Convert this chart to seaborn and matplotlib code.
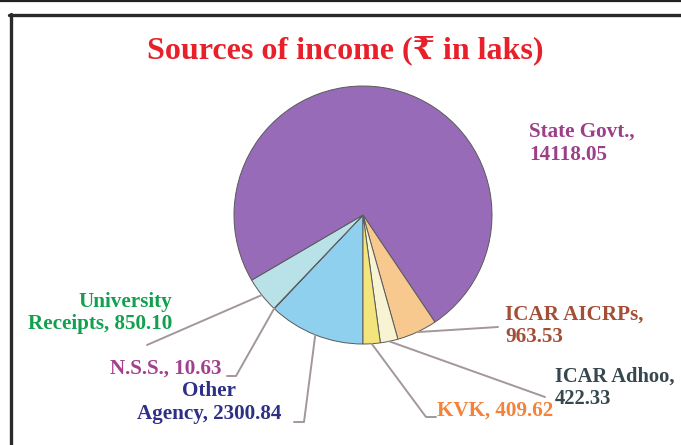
import numpy as np
import matplotlib.pyplot as plt
from matplotlib.lines import Line2D
import seaborn as sns

# data, in drawing order (clockwise from the bottom)
sources = ["Other\nAgency", "N.S.S.", "University\nReceipts", "State Govt.",
           "ICAR AICRPs", "ICAR Adhoo", "KVK"]
amounts = [2300.84, 10.63, 850.10, 14118.05, 963.53, 422.33, 409.62]
breaks = [" ", " ", " ", "\n", "\n", "\n", " "]
labels = [f"{s},{b}{a:.2f}" for s, b, a in zip(sources, breaks, amounts)]

wedge_colors = ["#8fd0ef", "#7fb5c8", "#b9e2e8", "#976bb8",
                "#f7c98f", "#f7f3d3", "#f3e47c"]
text_colors = ["#2e2f86", "#a3408c", "#12a04e", "#9c3f88",
               "#a34e35", "#37474f", "#f5823a"]

sns.set_theme(style="white")
serif = ["Liberation Serif", "DejaVu Serif", "Noto Sans"]

W, H = 681, 445
cx, cy, r = 363, 215, 129  # pie centre / radius in pixels


def fx(x, y):
    return x / W, 1 - y / H


fig = plt.figure(figsize=(W / 100, H / 100), dpi=100)
fig.patch.set_facecolor("white")

# frame lines
fig.add_artist(Line2D([0, 1], [1 - 1 / H] * 2, color="#222222", lw=1.6))
fig.add_artist(Line2D([9 / W, 1], [1 - 14.5 / H] * 2, color="#2a2a2a", lw=2.4))
fig.add_artist(Line2D([10.5 / W] * 2, [1 - 14 / H, 0], color="#2a2a2a", lw=2.4))

ax = fig.add_axes([(cx - r) / W, 1 - (cy + r) / H, 2 * r / W, 2 * r / H])
wedges, _ = ax.pie(amounts, colors=wedge_colors, startangle=270,
                   counterclock=False,
                   wedgeprops=dict(edgecolor="#5a5a5a", linewidth=0.7))
ax.set_xlim(-1, 1)
ax.set_ylim(-1, 1)
ax.axis("off")

# label layout (pixels): text anchor, alignment, leader elbow/end
text_pos = [(209, 403), (222, 369), (172, 313), (529, 143),
            (505, 326), (555, 388), (437, 411)]
text_ha = ["center", "right", "right", "left", "left", "left", "left"]
leader = [[(304, 422), (294, 422)],
          [(236, 376), (227, 376)],
          [(147, 345)],
          None,
          [(498, 327)],
          [(545, 397)],
          [(426, 417), (436, 417)]]

for w, lab, col, pos, ha, pts in zip(wedges, labels, text_colors,
                                     text_pos, text_ha, leader):
    if pts is not None:
        ang = np.deg2rad((w.theta1 + w.theta2) / 2)
        start = (cx + r * np.cos(ang), cy - r * np.sin(ang))
        xs, ys = zip(*[fx(*p) for p in [start] + pts])
        fig.add_artist(Line2D(xs, ys, color="#a39797", lw=1.4))
    fig.text(*fx(*pos), lab, ha=ha, va="center", multialignment=ha,
             color=col, fontsize=15.2 if pos[0] < 550 else 14.8,
             fontweight="bold", family=serif)

fig.text(*fx(345, 50), "Sources of income (\u20b9 in laks)", ha="center",
         va="center", color="#e8202a", fontsize=23, fontweight="bold",
         family=serif)

fig.savefig("out.png", dpi=100)
